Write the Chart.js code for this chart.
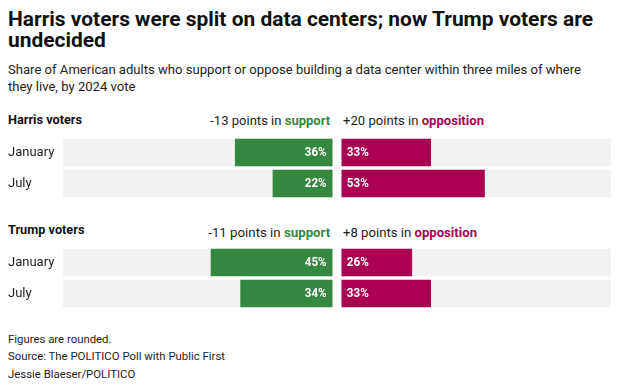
<!DOCTYPE html>
<html><head><meta charset="utf-8">
<script src="https://cdn.jsdelivr.net/npm/chart.js@4/dist/chart.umd.min.js"></script>
<style>
html,body{margin:0;padding:0;background:#fff;}
body{width:617px;height:388px;position:relative;overflow:hidden;font-family:Roboto,"Open Sans",sans-serif;color:#1d1d1d;}
.t{position:absolute;white-space:nowrap;line-height:1;}
canvas{position:absolute;}
</style></head><body>
<script>
// ---- data ----
const titleLines = ['Harris voters were split on data centers; now Trump voters are', 'undecided'];
const subtitleLines = ['Share of American adults who support or oppose building a data center within three miles of where', 'they live, by 2024 vote'];
const groupNames = ['Harris voters', 'Trump voters'];
const months = ['January', 'July'];
const harrisSupport = [36, 22];
const harrisOppose = [33, 53];
const trumpSupport = [45, 34];
const trumpOppose = [26, 33];
const supportChange = [-13, -11];
const oppositionChange = [20, 8];
const footerLines = ['Figures are rounded.', 'Source: The POLITICO Poll with Public First', 'Jessie Blaeser/POLITICO'];

// ---- style ----
const GREEN = '#35883f';
const MAGENTA = '#ab0052';
const GRAY = '#f2f2f2';
const GAP = 1.8; // half gap between the two sides, in scale units

const fits = [];
function addText(html, o) {
  const d = document.createElement('div');
  d.className = 't';
  d.innerHTML = html;
  d.style.top = o.top + 'px';
  if (o.right != null) { d.style.right = o.right + 'px'; d.style.transformOrigin = 'right center'; }
  else { d.style.left = o.left + 'px'; d.style.transformOrigin = 'left center'; }
  d.style.fontSize = o.size + 'px';
  d.style.fontWeight = o.weight || 400;
  d.style.color = o.color || '#1d1d1d';
  document.body.appendChild(d);
  fits.push({el: d, target: o.target, ref: o.ref});
  return fits.length - 1;
}

// title & subtitle
const t0 = addText(titleLines[0], {left: 8, top: 9.3, size: 21, weight: 700, color: '#111', target: 585});
addText(titleLines[1], {left: 8, top: 30.3, size: 21, weight: 700, color: '#111', ref: t0});
const s0 = addText(subtitleLines[0], {left: 8, top: 63.2, size: 13.5, target: 573});
addText(subtitleLines[1], {left: 8, top: 80.3, size: 13.5, ref: s0});

// group headers
const groupTops = [114, 224];
const changeTops = [113.8, 226];
const supTargets = [120, 122];
const oppTargets = [141, 134];
let g0;
groupNames.forEach((g, i) => {
  const idx = addText(g, {left: 8, top: groupTops[i], size: 12.5, weight: 700, color: '#111', target: i === 0 ? 74 : undefined, ref: i === 0 ? undefined : g0});
  if (i === 0) g0 = idx;
  addText(`${supportChange[i]} points in <b style="color:${GREEN}">support</b>`, {right: 617 - 330, top: changeTops[i], size: 13.5, target: supTargets[i]});
  addText(`+${oppositionChange[i]} points in <b style="color:${MAGENTA}">opposition</b>`, {left: 343, top: changeTops[i], size: 13.5, target: oppTargets[i]});
});

// footer
const f1 = addText(footerLines[1], {left: 8, top: 351, size: 11.5, target: 217});
addText(footerLines[0], {left: 8, top: 334, size: 11.5, ref: f1});
addText(footerLines[2], {left: 8, top: 369, size: 11.5, ref: f1});

function applyFits() {
  const scales = [];
  fits.forEach((f, i) => {
    f.el.style.transform = 'none';
    if (f.target) scales[i] = f.target / f.el.getBoundingClientRect().width;
  });
  fits.forEach((f, i) => {
    const s = f.target ? scales[i] : (f.ref != null ? scales[f.ref] : 1);
    f.el.style.transform = `scaleX(${s})`;
  });
}
applyFits();
if (document.fonts && document.fonts.ready) document.fonts.ready.then(applyFits);

// value labels
const LABEL_SX = 0.86;
const valuePlugin = {
  id: 'vals',
  afterDatasetsDraw(chart) {
    const ctx = chart.ctx;
    ctx.save();
    ctx.font = 'bold 13.5px Roboto';
    ctx.fillStyle = '#fff';
    ctx.textBaseline = 'middle';
    [0, 1].forEach(di => {
      const ds = chart.data.datasets[di];
      chart.getDatasetMeta(di).data.forEach((el, i) => {
        const l = Math.min(el.x, el.base), r = Math.max(el.x, el.base);
        ctx.save();
        if (di === 0) { ctx.translate(r - 5.5, el.y + 0.5); ctx.textAlign = 'right'; }
        else { ctx.translate(l + 5, el.y + 0.5); ctx.textAlign = 'left'; }
        ctx.scale(LABEL_SX, 1);
        ctx.fillText(ds.values[i] + '%', 0, 0);
        ctx.restore();
      });
    });
    ctx.restore();
  }
};

function makeChart(top, support, oppose) {
  const c = document.createElement('canvas');
  c.width = 603; c.height = 62;
  c.style.left = '8px'; c.style.top = top + 'px';
  c.style.width = '603px'; c.style.height = '62px';
  document.body.appendChild(c);
  const common = {grouped: false, barThickness: 27, borderWidth: 0, borderSkipped: false};
  new Chart(c, {
    type: 'bar',
    data: {
      labels: months,
      datasets: [
        {label: 'support', values: support, data: support.map(v => [-(v + GAP), -GAP]), backgroundColor: GREEN, order: 1, ...common},
        {label: 'opposition', values: oppose, data: oppose.map(v => [GAP, GAP + v]), backgroundColor: MAGENTA, order: 1, ...common},
        {label: 'bgL', data: months.map(() => [-(100 + GAP), -GAP]), backgroundColor: GRAY, order: 2, ...common},
        {label: 'bgR', data: months.map(() => [GAP, 100 + GAP]), backgroundColor: GRAY, order: 2, ...common}
      ]
    },
    options: {
      indexAxis: 'y',
      responsive: false,
      animation: false,
      devicePixelRatio: 1,
      layout: {padding: 0},
      plugins: {legend: {display: false}, tooltip: {enabled: false}},
      scales: {
        x: {type: 'linear', min: -(100 + GAP), max: 100 + GAP, display: false},
        y: {
          grid: {display: false, drawTicks: false},
          border: {display: false},
          ticks: {crossAlign: 'far', padding: 0, color: '#1d1d1d', font: {family: 'Roboto', size: 13}},
          afterFit(s) { s.width = 55; s.paddingTop = 0; s.paddingBottom = 0; }
        }
      }
    },
    plugins: [valuePlugin]
  });
}

makeChart(137, harrisSupport, harrisOppose);
makeChart(247, trumpSupport, trumpOppose);
</script>
</body></html>
